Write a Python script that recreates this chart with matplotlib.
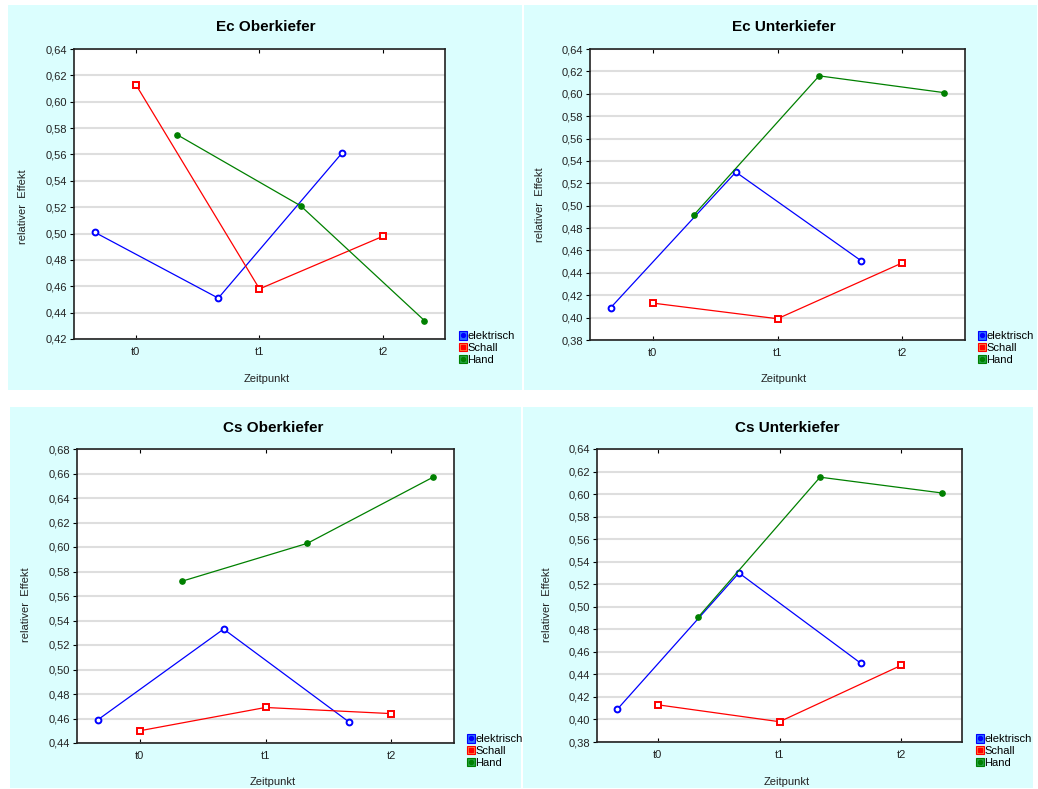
import numpy as np
import matplotlib.pyplot as plt
from matplotlib.patches import Rectangle, Patch
from matplotlib.lines import Line2D
from matplotlib.ticker import FuncFormatter, MultipleLocator

plt.rcParams['font.family'] = ['Liberation Sans', 'DejaVu Sans']

zeitpunkte = ["t0", "t1", "t2"]
gruppen = ["elektrisch", "Schall", "Hand"]

titles = ["Ec Oberkiefer", "Ec Unterkiefer", "Cs Oberkiefer", "Cs Unterkiefer"]

ec_ok_elektrisch = [0.501, 0.451, 0.561]
ec_ok_schall = [0.613, 0.458, 0.498]
ec_ok_hand = [0.575, 0.521, 0.434]

ec_uk_elektrisch = [0.409, 0.530, 0.451]
ec_uk_schall = [0.413, 0.399, 0.449]
ec_uk_hand = [0.492, 0.616, 0.601]

cs_ok_elektrisch = [0.459, 0.533, 0.457]
cs_ok_schall = [0.450, 0.469, 0.464]
cs_ok_hand = [0.572, 0.603, 0.657]

cs_uk_elektrisch = [0.409, 0.530, 0.450]
cs_uk_schall = [0.413, 0.398, 0.448]
cs_uk_hand = [0.491, 0.615, 0.601]

ylims = [(0.42, 0.64), (0.38, 0.64), (0.44, 0.68), (0.38, 0.64)]

W, H = 1038, 789
fig = plt.figure(figsize=(W / 100, H / 100), dpi=100)
fig.patch.set_facecolor('white')

def fx(x):
    return x / W

def fy(y):
    return 1 - y / H

# panel layout in pixels: background box, axes box, title, ylabel, xlabel, legend
panels = [
    dict(bg=(8, 5, 514, 385), ax=(74, 49, 445, 339), title=(266, 27), yl=(23, 207), xl=(267, 379), leg=(459, 331)),
    dict(bg=(524, 5, 513, 385), ax=(590, 49, 965, 340), title=(784, 27), yl=(540, 205), xl=(784, 379), leg=(978, 331)),
    dict(bg=(10, 407, 511, 381), ax=(77, 449, 454, 743), title=(273, 428), yl=(26, 605), xl=(273, 782), leg=(467, 734)),
    dict(bg=(523, 407, 510, 381), ax=(597, 449, 962, 742), title=(787, 428), yl=(547, 605), xl=(787, 782), leg=(976, 734)),
]

data = [
    [ec_ok_elektrisch, ec_ok_schall, ec_ok_hand],
    [ec_uk_elektrisch, ec_uk_schall, ec_uk_hand],
    [cs_ok_elektrisch, cs_ok_schall, cs_ok_hand],
    [cs_uk_elektrisch, cs_uk_schall, cs_uk_hand],
]

farben = ['#0000ff', '#ff0000', '#008000']
patch_farben = ['#2a6cff', '#ff8040', '#22a040']
marker = ['o', 's', 'o']
offsets = [-1 / 3, 0, 1 / 3]

komma = FuncFormatter(lambda v, p: ("%.2f" % v).replace('.', ','))

for i, p in enumerate(panels):
    bx, by, bw, bh = p['bg']
    fig.patches.append(Rectangle((fx(bx), fy(by + bh)), bw / W, bh / H,
                                 transform=fig.transFigure, facecolor='#dbfefe',
                                 edgecolor='none', zorder=-5))
    x0, y0, x1, y1 = p['ax']
    ax = fig.add_axes([fx(x0), fy(y1), (x1 - x0) / W, (y1 - y0) / H])
    ax.set_facecolor('white')
    x = np.arange(len(zeitpunkte))
    for j, g in enumerate(gruppen):
        if j == 2:
            ax.plot(x + offsets[j], data[i][j], color=farben[j], lw=0.9,
                    marker='o', ms=3.8, mfc=farben[j], mec=farben[j], zorder=3)
        else:
            ax.plot(x + offsets[j], data[i][j], color=farben[j], lw=0.9,
                    marker=marker[j], ms=4.2, mfc='white', mec=farben[j], mew=1.4, zorder=3)
    ax.set_xlim(-0.5, 2.5)
    ax.set_ylim(*ylims[i])
    ax.yaxis.set_major_locator(MultipleLocator(0.02))
    ax.yaxis.set_major_formatter(komma)
    ax.set_xticks(x)
    ax.set_xticklabels(zeitpunkte)
    ax.grid(axis='y', color='#dedede', lw=1.5)
    ax.set_axisbelow(True)
    ax.tick_params(axis='y', direction='out', length=3, labelsize=8, pad=2, width=0.8,
                   labelcolor='#222222')
    ax.tick_params(axis='x', direction='in', length=3, labelsize=8, pad=6, top=True, width=0.8,
                   labelcolor='#222222')
    for s in ax.spines.values():
        s.set_linewidth(1.2)
        s.set_color('#222222')

    fig.text(fx(p['title'][0]), fy(p['title'][1]), titles[i], fontsize=11,
             fontweight='bold', ha='center', va='center')
    fig.text(fx(p['yl'][0]), fy(p['yl'][1]), "relativer  Effekt", fontsize=8,
             rotation=90, ha='center', va='center', color='#222222')
    fig.text(fx(p['xl'][0]), fy(p['xl'][1]), "Zeitpunkt", fontsize=8,
             ha='center', va='center', color='#222222')

    handles = []
    for j, g in enumerate(gruppen):
        pa = Patch(facecolor=patch_farben[j], edgecolor=farben[j], lw=0.8)
        li = Line2D([], [], color=farben[j], marker='o' if j != 1 else 's',
                    ms=2.8, lw=0, mfc=farben[j], mec=farben[j])
        handles.append((pa, li))
    fig.legend(handles, gruppen, loc='upper left',
               bbox_to_anchor=(fx(p['leg'][0]), fy(p['leg'][1])),
               frameon=False, fontsize=8, handlelength=0.75, handleheight=0.8,
               handletextpad=0.0, labelspacing=0.15, borderpad=0, borderaxespad=0)

fig.savefig('out.png', dpi=100)
